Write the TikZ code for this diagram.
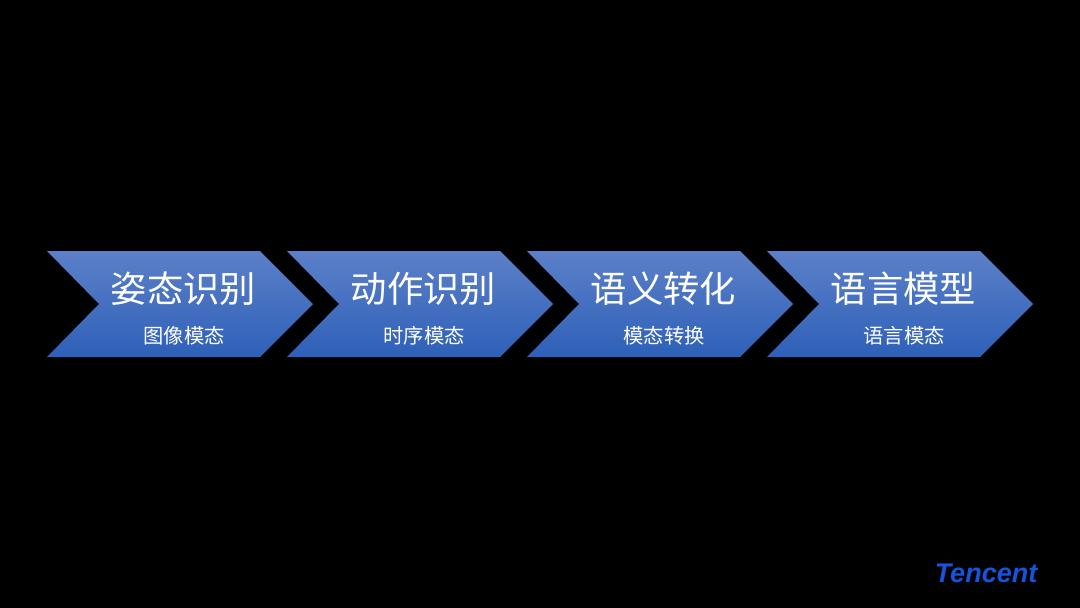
\documentclass[tikz,border=0pt]{standalone}
\usepackage{fontspec}
\newfontfamily\cjk{Noto Sans CJK SC}
\newfontfamily\logofont{Liberation Sans}
\definecolor{chevtop}{RGB}{92,128,200}
\definecolor{chevmid}{RGB}{56,104,190}
\definecolor{chevbot}{RGB}{46,96,184}
\definecolor{logoblue}{RGB}{22,84,220}
\tikzset{
  x=1pt,y=-1pt,
  chev/.style={top color=chevtop,middle color=chevmid,bottom color=chevbot,draw=none},
  titletext/.style={text=white,inner sep=0pt,font=\cjk\fontsize{36.3}{36.3}\selectfont},
  subtext/.style={text=white,inner sep=0pt,font=\cjk\fontsize{20.3}{20.3}\selectfont},
  logotext/.style={text=logoblue,inner sep=0pt,font=\logofont\bfseries\itshape\fontsize{27}{27}\selectfont},
}
\begin{document}
\begin{tikzpicture}
\useasboundingbox[fill=black] (0,0) rectangle (1080,608);
\foreach \o/\t/\s/\n in {0/姿态识别/图像模态/a,240/动作识别/时序模态/b,480/语义转化/模态转换/c,720/语言模型/语言模态/d}{
  \path[chev] (47+\o,251) -- (260+\o,251) -- (313+\o,304) -- (260+\o,357) -- (47+\o,357) -- (99+\o,304) -- cycle;
  \node[titletext] (title\n) at (183.5+\o,289) {\t};
  \node[subtext] (sub\n) at (184+\o,336) {\s};
}
\node[logotext] (logo) at (986,573.5) {Tencent};
\end{tikzpicture}
\end{document}
